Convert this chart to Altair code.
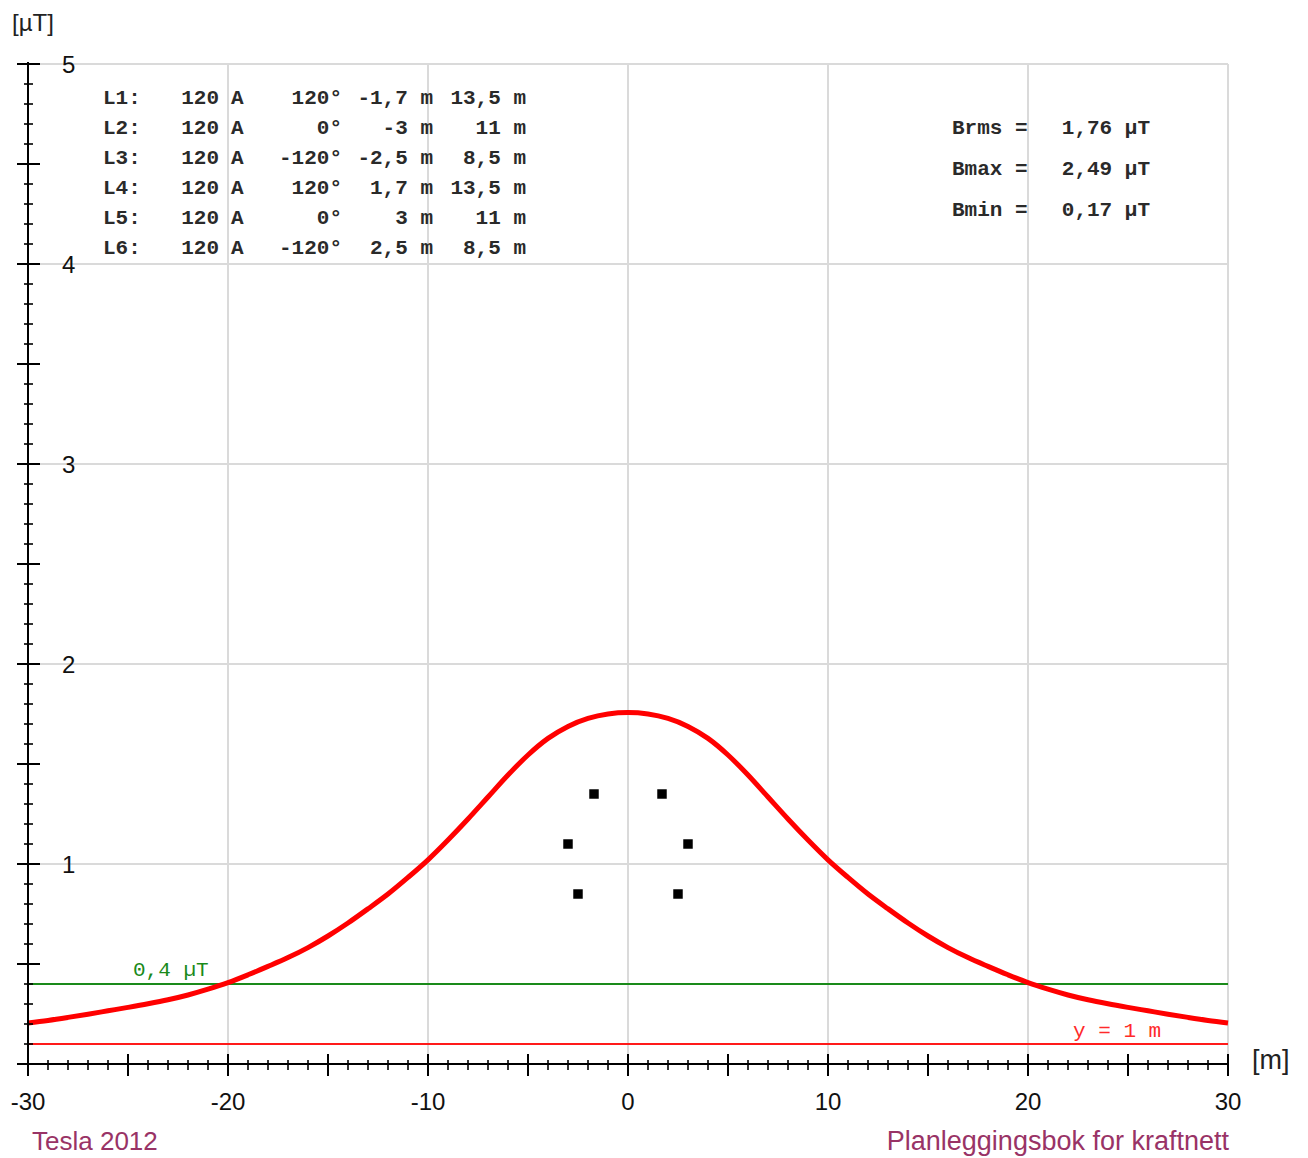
import altair as alt
import pandas as pd

# ---------------- data ----------------
curve_x = list(range(-30, 31))
curve_b = [0.205, 0.218, 0.233, 0.249, 0.266, 0.283, 0.301, 0.321, 0.345, 0.374,
           0.407, 0.446, 0.488, 0.532, 0.582, 0.640, 0.705, 0.776, 0.850, 0.933,
           1.021, 1.120, 1.225, 1.335, 1.445, 1.545, 1.628, 1.688, 1.728, 1.750,
           1.757,
           1.750, 1.728, 1.688, 1.628, 1.545, 1.445, 1.335, 1.225, 1.120, 1.021,
           0.933, 0.850, 0.776, 0.705, 0.640, 0.582, 0.532, 0.488, 0.446, 0.407,
           0.374, 0.345, 0.321, 0.301, 0.283, 0.266, 0.249, 0.233, 0.218, 0.205]

cond_names = ["L1:", "L2:", "L3:", "L4:", "L5:", "L6:"]
cond_current = [120, 120, 120, 120, 120, 120]
cond_phase = [120, 0, -120, 120, 0, -120]
cond_x = [-1.7, -3, -2.5, 1.7, 3, 2.5]
cond_h = [13.5, 11, 8.5, 13.5, 11, 8.5]

stat_names = ["Brms =", "Bmax =", "Bmin ="]
stat_values = [1.76, 2.49, 0.17]

limit_value = 0.4       # µT reference line
ground_height = 1       # m (drawn at 1/10 scale)
height_scale = 10       # metres per µT unit on the chart

x_major = [-30, -25, -20, -15, -10, -5, 0, 5, 10, 15, 20, 25, 30]
x_minor = [v for v in range(-30, 31) if v % 5 != 0]
x_labels = [-30, -20, -10, 0, 10, 20, 30]
x_grid = [-20, -10, 0, 10, 20, 30]
y_major = [i / 2 for i in range(0, 11)]
y_minor = [i / 10 for i in range(0, 51) if i % 5 != 0]
y_labels = [1, 2, 3, 4, 5]
y_grid = [1, 2, 3, 4, 5]

# ---------------- helpers ----------------
def fmt(v):
    return ("%g" % v).replace(".", ",")

W, H = 1200, 1000
xs = alt.Scale(domain=[-30, 30], nice=False, zero=False)
ys = alt.Scale(domain=[0, 5], nice=False, zero=False)
X = lambda f: alt.X(f, type="quantitative", scale=xs, axis=None)
Y = lambda f: alt.Y(f, type="quantitative", scale=ys, axis=None)
X2 = lambda f: alt.X2(f)
Y2 = lambda f: alt.Y2(f)

MONO = "Liberation Mono"
SANS = "Liberation Sans"
GRID = "#dadada"
FOOT = "#993366"

curve_df = pd.DataFrame({"x": curve_x, "b": curve_b})
cond_df = pd.DataFrame({"x": cond_x, "h": cond_h})
cond_df["y"] = cond_df["h"] / height_scale

layers = []

# grid
layers.append(alt.Chart(pd.DataFrame({"x": x_grid, "y0": 0, "y1": 5})).mark_rule(
    color=GRID, strokeWidth=2).encode(x=X("x"), y=Y("y0"), y2=Y2("y1")))
layers.append(alt.Chart(pd.DataFrame({"y": y_grid, "x0": -30, "x1": 30})).mark_rule(
    color=GRID, strokeWidth=2).encode(y=Y("y"), x=X("x0"), x2=X2("x1")))

# reference lines
layers.append(alt.Chart(pd.DataFrame({"y": [limit_value], "x0": [-30], "x1": [30]})).mark_rule(
    color="#1a8a1a", strokeWidth=2).encode(y=Y("y"), x=X("x0"), x2=X2("x1")))
layers.append(alt.Chart(pd.DataFrame({"y": [ground_height / height_scale], "x0": [-30], "x1": [30]})).mark_rule(
    color="#ff1a1a", strokeWidth=2).encode(y=Y("y"), x=X("x0"), x2=X2("x1")))

# field curve
layers.append(alt.Chart(curve_df).mark_line(
    color="#ff0000", strokeWidth=5, interpolate="monotone").encode(x=X("x"), y=Y("b")))

# conductors
layers.append(alt.Chart(cond_df).mark_square(
    color="black", size=90, opacity=1, filled=True).encode(x=X("x"), y=Y("y")))

# axes lines
layers.append(alt.Chart(pd.DataFrame({"x": [-30], "y0": [0], "y1": [5]})).mark_rule(
    color="black", strokeWidth=2).encode(x=X("x"), y=Y("y0"), y2=alt.value(-2)))
layers.append(alt.Chart(pd.DataFrame({"y": [0], "x0": [-30], "x1": [30]})).mark_rule(
    color="black", strokeWidth=2).encode(y=Y("y"), x=X("x0"), x2=X2("x1")))

# ticks
layers.append(alt.Chart(pd.DataFrame({"y": y_major})).mark_rule(
    color="black", strokeWidth=2).encode(y=Y("y"), x=alt.value(-11), x2=alt.value(12)))
layers.append(alt.Chart(pd.DataFrame({"y": y_minor})).mark_rule(
    color="black", strokeWidth=1.6).encode(y=Y("y"), x=alt.value(-4), x2=alt.value(5)))
layers.append(alt.Chart(pd.DataFrame({"x": x_major})).mark_rule(
    color="black", strokeWidth=2).encode(x=X("x"), y=alt.value(H - 10), y2=alt.value(H + 12)))
layers.append(alt.Chart(pd.DataFrame({"x": x_minor})).mark_rule(
    color="black", strokeWidth=1.6).encode(x=X("x"), y=alt.value(H - 4), y2=alt.value(H + 6)))

# tick labels
layers.append(alt.Chart(pd.DataFrame({"y": y_labels, "t": [str(v) for v in y_labels]})).mark_text(
    font=SANS, fontSize=24, align="left", baseline="middle", dy=2, color="#111").encode(
    y=Y("y"), x=alt.value(34), text="t:N"))
layers.append(alt.Chart(pd.DataFrame({"x": x_labels, "t": [str(v) for v in x_labels]})).mark_text(
    font=SANS, fontSize=24, align="center", baseline="alphabetic", color="#111").encode(
    x=X("x"), y=alt.value(H + 46), text="t:N"))

# unit labels and footer
layers.append(alt.Chart(pd.DataFrame({"t": ["[µT]"]})).mark_text(
    font=SANS, fontSize=24, align="left", baseline="alphabetic", color="#222").encode(
    x=alt.value(-16), y=alt.value(-33), text="t:N"))
layers.append(alt.Chart(pd.DataFrame({"t": ["[m]"]})).mark_text(
    font=SANS, fontSize=27, align="left", baseline="alphabetic", color="#222").encode(
    x=alt.value(1224), y=alt.value(H + 5), text="t:N"))
layers.append(alt.Chart(pd.DataFrame({"t": ["Tesla 2012"]})).mark_text(
    font=SANS, fontSize=26, align="left", baseline="alphabetic", color=FOOT).encode(
    x=alt.value(4), y=alt.value(H + 86), text="t:N"))
layers.append(alt.Chart(pd.DataFrame({"t": ["Planleggingsbok for kraftnett"]})).mark_text(
    font=SANS, fontSize=27, align="right", baseline="alphabetic", color=FOOT).encode(
    x=alt.value(1201), y=alt.value(H + 86), text="t:N"))

# conductor table
row_y = [4.83 - 0.15 * i for i in range(len(cond_names))]
tbl = pd.DataFrame({
    "y": row_y,
    "name": cond_names,
    "cur": [str(c) for c in cond_current],
    "unit": ["A"] * len(cond_names),
    "ph": [fmt(p) + "°" for p in cond_phase],
    "px": [fmt(v) + " m" for v in cond_x],
    "ph_h": [fmt(v) + " m" for v in cond_h],
})
cols = [("name", -26.25, "left"), ("cur", -20.45, "right"), ("unit", -19.85, "left"),
        ("ph", -14.3, "right"), ("px", -9.75, "right"), ("ph_h", -5.1, "right")]
for field, xpos, al in cols:
    d = tbl.copy()
    d["xx"] = xpos
    layers.append(alt.Chart(d).mark_text(
        font=MONO, fontSize=21, fontWeight="bold", align=al, baseline="middle", color="#2a2a2a").encode(
        x=X("xx"), y=Y("y"), text=f"{field}:N"))

# statistics
st = pd.DataFrame({"y": [4.68, 4.475, 4.27], "n": stat_names,
                   "v": [("%.2f" % v).replace(".", ",") + " µT" for v in stat_values]})
st["xl"] = 16.2
st["xr"] = 26.1
layers.append(alt.Chart(st).mark_text(
    font=MONO, fontSize=21, fontWeight="bold", align="left", baseline="middle", color="#2a2a2a").encode(
    x=X("xl"), y=Y("y"), text="n:N"))
layers.append(alt.Chart(st).mark_text(
    font=MONO, fontSize=21, fontWeight="bold", align="right", baseline="middle", color="#2a2a2a").encode(
    x=X("xr"), y=Y("y"), text="v:N"))

# line labels
layers.append(alt.Chart(pd.DataFrame({"x": [-24.75], "y": [0.47], "t": [fmt(limit_value) + " µT"]})).mark_text(
    font=MONO, fontSize=21, align="left", baseline="middle", color="#1a8a1a").encode(
    x=X("x"), y=Y("y"), text="t:N"))
layers.append(alt.Chart(pd.DataFrame({"x": [22.25], "y": [0.165], "t": ["y = %g m" % ground_height]})).mark_text(
    font=MONO, fontSize=21, align="left", baseline="middle", color="#ff2a2a").encode(
    x=X("x"), y=Y("y"), text="t:N"))

chart = alt.layer(*layers).properties(
    width=W, height=H,
    autosize=alt.AutoSizeParams(type="none"),
    padding={"left": 20, "top": 56, "right": 70, "bottom": 92},
).configure_view(stroke=None).configure(background="white")

chart.save("out.html", embed_options={"renderer": "svg", "actions": False})
